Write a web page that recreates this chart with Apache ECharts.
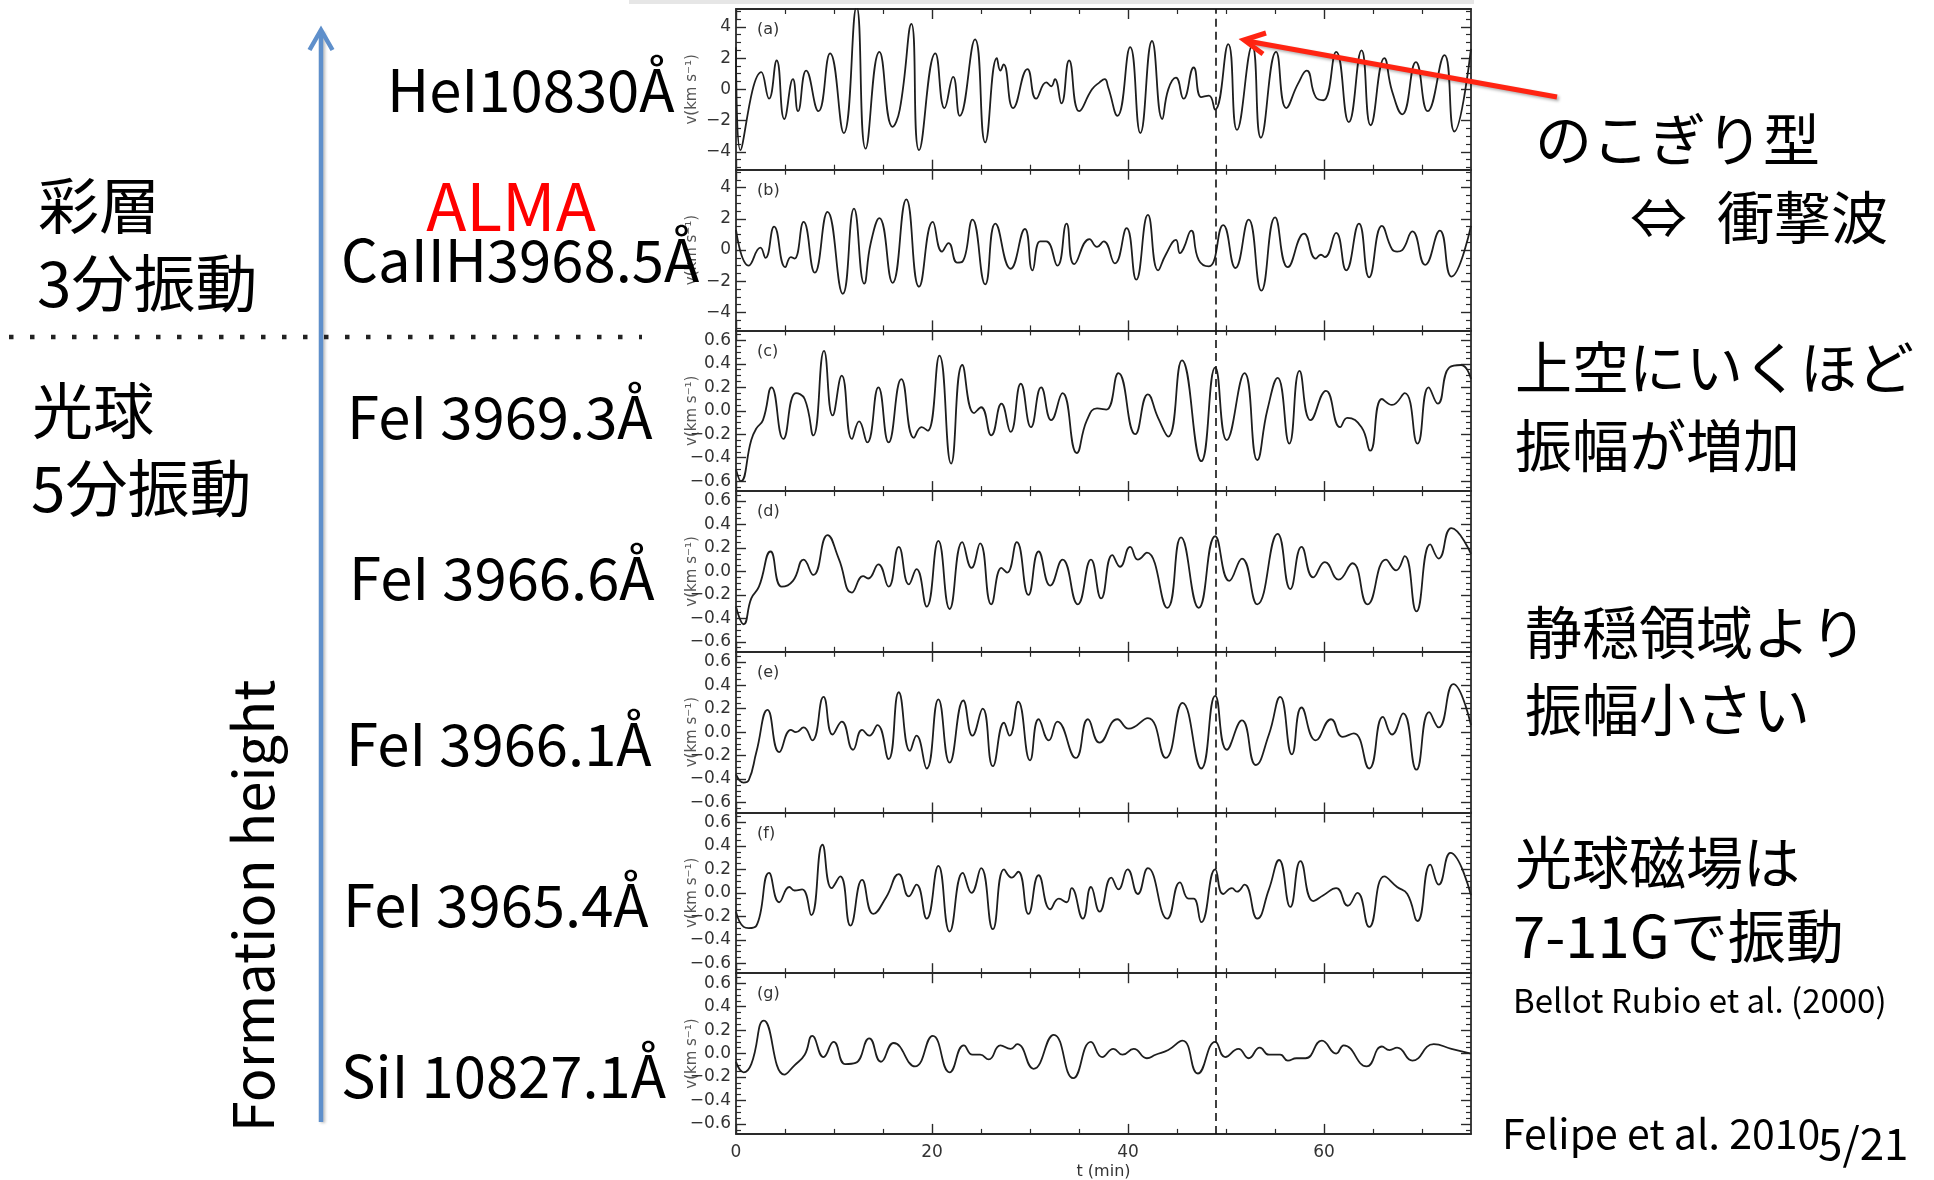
<!DOCTYPE html>
<html><head><meta charset="utf-8">
<script src="https://cdn.jsdelivr.net/npm/echarts@6/dist/echarts.min.js"></script>
<style>html,body{margin:0;padding:0;background:#fff;}#c{width:1934px;height:1180px;}</style>
</head><body><div id="c"></div>
<script>
// ---- data: [t (min), v] ----
const heI10830 = [[0,2.7],[0.45,-3.9],[2.59,1.1],[3.37,-0.6],[4.15,1.85],[4.93,-1.9],[5.81,0.65],[6.33,-1.4],[7.16,1.2],[8.41,-1.4],[9.6,2.3],[11.0,-2.8],[12.3,5.3],[13.23,-3.8],[14.63,2.4],[15.98,-2.4],[16.71,-1.3],[17.9,4.2],[18.68,-3.9],[20.34,2.3],[21.28,-1.2],[22.16,0.8],[22.83,-1.7],[24.39,3.2],[25.43,-3.4],[26.62,2.0],[26.98,1.2],[27.3,1.6],[28.28,-1.2],[29.74,1.3],[30.62,-0.6],[31.66,0.45],[32.17,0.2],[32.54,0.65],[33.21,-0.9],[33.99,1.85],[35.03,-1.4],[36.33,0],[37.1,0.45],[37.62,0.65],[37.99,0.1],[38.92,-1.7],[40.22,2.7],[41.26,-2.8],[42.45,3.1],[43.49,-1.9],[44.11,0],[44.89,0.75],[45.67,-0.6],[46.7,1.4],[47.48,-0.5],[48.26,-0.4],[48.88,-1.3],[50.23,2.9],[51.12,-2.6],[52.67,2.8],[53.56,-3.1],[55.11,2.4],[56.15,-1.2],[57.34,0.35],[58.23,1.2],[59.16,-0.5],[59.94,-0.7],[61.24,2.4],[62.53,-2.1],[63.83,2.5],[64.76,-2.3],[66.16,2.0],[66.94,-0.1],[67.98,-1.6],[69.38,1.75],[70.58,-1.4],[72.29,2.2],[73.3,-2.7],[75,2.6]];
const caIIH3968 = [[0,1.3],[1.3,-1.0],[2.49,0.15],[3.01,-0.5],[3.89,1.5],[5.03,-1.1],[5.6,-0.45],[5.97,-0.55],[6.9,1.8],[8.04,-1.45],[9.34,2.45],[10.9,-2.8],[12.04,2.65],[13.08,-2.15],[13.75,0.45],[14.63,2.05],[15.98,-2.1],[17.38,3.25],[18.68,-2.35],[20.08,1.8],[21.02,-0.1],[21.69,0.45],[22.57,-0.8],[23.09,-0.75],[24.13,1.95],[25.43,-2.2],[26.47,1.7],[28.02,-1.2],[29.48,1.35],[30.25,-1.3],[31.03,0.55],[31.66,0.55],[32.8,-1.0],[33.73,1.7],[34.51,-0.9],[36.07,0.7],[36.84,0.2],[37.52,0.55],[38.66,-0.85],[39.86,1.4],[40.84,-1.9],[42.03,2.25],[43.07,-1.3],[43.85,-0.3],[44.89,0.65],[45.3,-0.2],[45.67,0.1],[46.45,1.25],[47.22,-0.65],[48.26,-1.05],[49.71,1.6],[50.96,-1.15],[52.31,1.95],[53.61,-2.6],[55.01,2.1],[56.31,-1.1],[57.97,1.05],[59.16,-0.55],[59.68,-0.3],[60.09,-0.45],[61.24,1.1],[62.27,-1.3],[63.57,1.7],[64.61,-1.75],[65.91,1.55],[66.94,0.05],[67.46,-0.1],[67.98,0],[69.02,1.2],[70.32,-0.95],[71.82,1.25],[73.0,-1.7],[75,1.55]];
const feI3969 = [[0,-0.5],[0.5,-0.6],[1.56,-0.25],[2.08,-0.15],[2.75,-0.08],[3.63,0.2],[4.83,-0.24],[6.12,0.15],[7.01,0.1],[7.89,-0.21],[8.98,0.51],[9.86,-0.04],[10.79,0.3],[11.83,-0.24],[12.56,-0.09],[13.39,-0.27],[14.53,0.2],[15.57,-0.27],[16.87,0.27],[18.16,-0.23],[18.94,-0.14],[19.56,-0.17],[20.76,0.47],[21.95,-0.45],[23.09,0.39],[24.29,-0.02],[25.01,0.03],[26.05,-0.21],[27.09,0.06],[28.02,-0.18],[29.06,0.23],[30.1,-0.14],[31.14,0.2],[32.17,-0.08],[33.32,0.15],[34.77,-0.36],[35.81,-0.08],[36.84,0.02],[37.78,0.01],[39.02,0.32],[40.74,-0.2],[42.03,0.14],[43.07,-0.06],[44.11,-0.22],[45.51,0.43],[47.48,-0.43],[48.9,0.37],[50.08,-0.25],[51.89,0.32],[53.19,-0.42],[54.23,0.01],[55.27,0.28],[56.46,-0.28],[57.5,0.34],[58.64,-0.08],[60.2,0.17],[61.65,-0.14],[62.38,-0.06],[63.83,-0.14],[64.71,-0.34],[65.91,0.1],[66.94,0.05],[68.24,0.15],[69.54,-0.28],[70.68,0.2],[71.61,0.06],[72.8,0.37],[74.0,0.39],[75,0.27]];
const feI3966_6 = [[0,-0.3],[0.78,-0.45],[1.56,-0.23],[2.34,-0.13],[3.53,0.17],[4.67,-0.13],[5.81,-0.08],[6.9,0.1],[7.89,-0.03],[9.34,0.31],[10.48,0.11],[11.83,-0.18],[12.97,-0.04],[13.49,-0.06],[14.53,0.06],[15.57,-0.13],[16.61,0.21],[17.64,-0.11],[18.42,0.02],[19.46,-0.3],[20.65,0.26],[21.8,-0.32],[23.09,0.25],[24.03,0.03],[24.91,0.24],[26.05,-0.28],[27.09,0.03],[27.66,-0.01],[28.65,0.25],[29.84,-0.2],[30.88,0.17],[32.07,-0.12],[33.32,0.1],[34.87,-0.28],[36.22,0.1],[37.26,-0.23],[38.4,0.14],[39.18,0.04],[40.22,0.21],[41.0,0.1],[41.93,0.16],[44.01,-0.31],[45.41,0.29],[47.22,-0.31],[48.9,0.3],[50.34,-0.08],[51.63,0.11],[53.19,-0.28],[55.27,0.32],[56.56,-0.15],[57.71,0.21],[58.9,-0.05],[60.09,0.08],[61.49,-0.07],[62.9,0.07],[64.45,-0.28],[66.32,0.1],[67.36,0.01],[68.24,0.13],[69.43,-0.34],[70.84,0.23],[71.7,0.11],[73.0,0.37],[75,0.15]];
const feI3966_1 = [[0,-0.36],[0.78,-0.43],[1.3,-0.41],[2.08,-0.17],[3.22,0.19],[4.41,-0.17],[5.6,0.02],[6.12,0],[6.9,0.04],[7.78,-0.07],[8.93,0.3],[9.86,-0.02],[10.79,0.09],[11.94,-0.15],[12.87,0.02],[13.6,-0.03],[14.43,0.06],[15.57,-0.23],[16.61,0.34],[17.75,-0.16],[18.42,-0.03],[19.46,-0.31],[20.65,0.28],[21.8,-0.26],[23.2,0.27],[24.13,-0.03],[25.17,0.2],[26.21,-0.29],[27.35,0.08],[27.92,-0.03],[28.8,0.26],[30.0,-0.24],[30.88,0.11],[31.92,-0.07],[32.8,0.09],[34.67,-0.22],[35.91,0.11],[37.1,-0.09],[38.92,0.11],[40.06,0.03],[42.03,0.12],[43.85,-0.22],[45.56,0.25],[47.48,-0.31],[48.9,0.31],[50.08,-0.15],[51.63,0.1],[53.04,-0.28],[54.38,-0.02],[55.53,0.3],[56.72,-0.19],[57.71,0.21],[59.16,-0.07],[60.72,0.11],[61.91,-0.04],[63.05,-0.01],[64.61,-0.31],[66.01,0.13],[66.94,-0.02],[68.08,0.16],[69.43,-0.32],[70.73,0.17],[71.7,0.04],[73.2,0.41],[75,0.06]];
const feI3965 = [[0,-0.16],[0.78,-0.29],[1.3,-0.3],[2.08,-0.28],[3.37,0.17],[4.41,-0.08],[5.45,0.05],[5.97,0.02],[6.75,0.03],[7.68,-0.19],[8.82,0.41],[9.76,0.04],[10.64,0.14],[11.68,-0.28],[12.87,0.11],[14.01,-0.18],[15.31,-0.04],[16.61,0.16],[17.64,-0.03],[18.42,0.07],[19.46,-0.22],[20.65,0.23],[21.8,-0.33],[23.14,0.17],[24.03,0],[25.01,0.21],[26.21,-0.31],[27.35,0.2],[28.13,0.13],[28.8,0.18],[29.84,-0.18],[30.88,0.15],[32.07,-0.14],[32.95,-0.05],[33.73,-0.08],[34.25,0.04],[35.39,-0.22],[36.22,0.05],[37.1,-0.16],[38.3,0.13],[39.02,0.03],[39.96,0.2],[41.0,-0.01],[42.03,0.21],[44.01,-0.22],[45.3,0.09],[46.19,-0.05],[46.7,-0.05],[47.48,-0.25],[48.9,0.2],[49.71,-0.01],[50.6,0.04],[51.12,0.01],[51.89,0.07],[53.19,-0.22],[54.38,0.03],[55.42,0.28],[56.56,-0.12],[57.6,0.27],[58.9,-0.07],[59.94,-0.02],[61.24,0.04],[62.43,-0.11],[63.41,0],[64.61,-0.29],[66.16,0.14],[67.46,0.05],[68.5,-0.01],[69.54,-0.24],[70.84,0.24],[71.7,0.07],[72.9,0.34],[75,-0.02]];
const siI10827 = [[0,-0.07],[0.78,-0.16],[1.56,-0.09],[2.85,0.28],[4.93,-0.18],[5.97,-0.1],[7.01,-0.01],[7.78,0.15],[8.93,-0.03],[9.96,0.1],[11.16,-0.09],[12.2,-0.08],[13.6,0.13],[14.79,-0.07],[16.09,0.09],[18.27,-0.11],[20.08,0.15],[21.8,-0.16],[23.25,0.07],[24.13,-0.01],[24.91,-0.01],[25.79,-0.05],[26.98,0.07],[28.02,0.04],[28.7,0.08],[30.36,-0.13],[32.43,0.16],[34.41,-0.21],[36.22,0.1],[37.36,-0.03],[38.51,0.04],[39.44,-0.01],[40.58,0.04],[41.93,-0.04],[42.81,-0.01],[44.11,0.03],[45.56,0.11],[47.12,-0.17],[48.9,0.1],[49.92,-0.03],[51.27,0.04],[52.31,-0.04],[53.45,0.05],[54.38,-0.01],[55.53,-0.01],[56.31,-0.06],[57.19,-0.04],[58.12,-0.04],[59.78,0.11],[61.24,0],[62.01,0.07],[64.35,-0.11],[65.91,0.06],[66.68,0.03],[67.46,0.05],[69.02,-0.06],[71.2,0.08],[73.0,0.04],[75,0]];

const panelTags = ['(a)','(b)','(c)','(d)','(e)','(f)','(g)'];
const lineNames = ['HeI10830Å','CaIIH3968.5Å','FeI 3969.3Å','FeI 3966.6Å','FeI 3966.1Å','FeI 3965.4Å','SiI 10827.1Å'];
const xMajorTicks = [0,20,40,60];
const xMinorTicks = [5,10,15,25,30,35,45,50,55,65,70];
const yMajorKms = [-4,-2,0,2,4];
const yMinorKms = [-5,-4.5,-3.5,-3,-2.5,-1.5,-1,-0.5,0.5,1,1.5,2.5,3,3.5,4.5,5];
const yMajorSmall = [-0.6,-0.4,-0.2,0,0.2,0.4,0.6];
const yMinorSmall = [-0.65,-0.55,-0.5,-0.45,-0.35,-0.3,-0.25,-0.15,-0.1,-0.05,0.05,0.1,0.15,0.25,0.3,0.35,0.45,0.5,0.55,0.65];
const T_MAX = 75;
const T_SHOCK = 49;
const Y_LIM_BIG = 5.15, Y_LIM_SMALL = 0.685;

// ---- layout ----
const GL = 736, GR = 1471, GT = 9, PH = 160.7;
const AX = '#2a2a2a';
const CHART_FONT = 'DejaVu Sans';
const SLIDE_FONT = '"Noto Sans CJK JP", "Noto Sans", sans-serif';

const panels = [heI10830, caIIH3968, feI3969, feI3966_6, feI3966_1, feI3965, siI10827];
const big = [true, true, false, false, false, false, false];

const grids = [], xAxes = [], yAxes = [], series = [];
function tickMaj(vals){ return {show:true, inside:true, length:10, customValues:vals, lineStyle:{color:AX, width:1.4}}; }
function tickMin(vals){ return {show:true, inside:true, length:5, customValues:vals, lineStyle:{color:AX, width:1.2}}; }
const lineOn = {show:true, onZero:false, lineStyle:{color:AX, width:1.8}};
const lineOff = {show:false, onZero:false};

panels.forEach((data, i) => {
  const top = GT + i * PH;
  const last = i === panels.length - 1;
  grids.push({left:GL, top:top, width:GR - GL, height:PH, show:false, containLabel:false, outerBoundsMode:'none'});
  const xBase = {gridIndex:i, type:'value', min:0, max:T_MAX, splitLine:{show:false}, minorTick:{show:false}};
  xAxes.push(Object.assign({}, xBase, {position:'bottom', axisLine:lineOn, axisTick:tickMaj(xMajorTicks),
    axisLabel: last ? {show:true, customValues:xMajorTicks, fontFamily:CHART_FONT, fontSize:17, color:'#333', margin:10} : {show:false},
    name: last ? 't (min)' : '', nameLocation:'middle', nameGap:30, nameMoveOverlap:false,
    nameTextStyle:{fontFamily:CHART_FONT, fontSize:16, color:'#333'}}));
  xAxes.push(Object.assign({}, xBase, {position:'top', axisLine:lineOn, axisTick:tickMaj(xMajorTicks), axisLabel:{show:false}}));
  xAxes.push(Object.assign({}, xBase, {position:'bottom', axisLine:lineOff, axisTick:tickMin(xMinorTicks), axisLabel:{show:false}}));
  xAxes.push(Object.assign({}, xBase, {position:'top', axisLine:lineOff, axisTick:tickMin(xMinorTicks), axisLabel:{show:false}}));

  const lim = big[i] ? Y_LIM_BIG : Y_LIM_SMALL;
  const maj = big[i] ? yMajorKms : yMajorSmall;
  const mnr = big[i] ? yMinorKms : yMinorSmall;
  const fmt = v => (v < -1e-9 ? '\u2212' : '') + Math.abs(v).toFixed(big[i] ? 0 : 1);
  const yBase = {gridIndex:i, type:'value', min:-lim, max:lim, splitLine:{show:false}, minorTick:{show:false}};
  yAxes.push(Object.assign({}, yBase, {position:'left', axisLine:lineOn, axisTick:tickMaj(maj),
    axisLabel:{show:true, customValues:maj, formatter:fmt, fontFamily:CHART_FONT, fontSize:17, color:'#333', margin:5},
    name:'v(km s\u207B\u00B9)', nameLocation:'middle', nameRotate:90, nameGap:36, nameMoveOverlap:false,
    nameTextStyle:{fontFamily:CHART_FONT, fontSize:15, color:'#555'}}));
  yAxes.push(Object.assign({}, yBase, {position:'right', axisLine:lineOn, axisTick:tickMaj(maj), axisLabel:{show:false}}));
  yAxes.push(Object.assign({}, yBase, {position:'left', axisLine:lineOff, axisTick:tickMin(mnr), axisLabel:{show:false}}));
  yAxes.push(Object.assign({}, yBase, {position:'right', axisLine:lineOff, axisTick:tickMin(mnr), axisLabel:{show:false}}));

  series.push({
    type:'line', name:lineNames[i], xAxisIndex:4*i, yAxisIndex:4*i, data:data,
    symbol:'none', showSymbol:false, smooth:0.5, clip:true, silent:true,
    lineStyle:{color:'#1e1e1e', width:1.8},
    markLine:{silent:true, symbol:['none','none'], label:{show:false},
      lineStyle:{color:'#111', width:1.6, type:[8,5]}, data:[{xAxis:T_SHOCK}]}
  });
});

// ---- slide texts and decorations ----
function txt(text, x, y, size, o) {
  o = o || {};
  const align = o.align || 'left';
  return {type:'text', x:x, y:y, rotation:o.rotation || 0, z:100, silent:true,
    style:{text:text, fontSize:size, fontFamily:o.font || SLIDE_FONT, fontWeight:'normal',
      fill:o.color || '#000', align:align, textAlign:align, verticalAlign:'middle', textVerticalAlign:'middle'}};
}
const graphics = [];
graphics.push({type:'rect', shape:{x:629, y:0, width:845, height:4}, style:{fill:'#e6e6e6'}, z:1, silent:true});
panelTags.forEach((t, i) => graphics.push(txt(t, 757, GT + i*PH + 21, 16, {font:CHART_FONT, color:'#333'})));
// left column
graphics.push(txt('彩層', 38, 206, 61));
graphics.push(txt('3分振動', 37, 283, 62));
graphics.push(txt('光球', 32, 411, 61));
graphics.push(txt('5分振動', 31, 488, 62));
graphics.push({type:'line', shape:{x1:9, y1:337, x2:642, y2:337}, z:100, silent:true,
  style:{stroke:'#222', lineWidth:4.5, lineDash:[4.5,16.5], lineCap:'butt'}});
graphics.push(txt('ALMA', 511, 206, 66, {align:'center', color:'#ff0000'}));
const labelLeft = [387, 341, 347, 349, 346, 343, 341];
const labelMid  = [90, 260, 417, 578, 744, 905, 1076];
lineNames.forEach((n, i) => graphics.push(txt(n, labelLeft[i], labelMid[i], 58)));
graphics.push(txt('Formation height', 253, 906, 56, {align:'center', rotation:Math.PI/2}));
// blue arrow
graphics.push({type:'line', shape:{x1:321, y1:1122, x2:321, y2:31}, z:90, silent:true,
  style:{stroke:'#5e8fcb', lineWidth:4.5, shadowBlur:3, shadowColor:'rgba(0,0,0,0.25)', shadowOffsetX:2, shadowOffsetY:1}});
graphics.push({type:'polyline', shape:{points:[[309.5,50],[321,30],[332.5,50]]}, z:90, silent:true,
  style:{stroke:'#5e8fcb', fill:null, lineWidth:4.5, lineJoin:'miter'}});
// red arrow
graphics.push({type:'line', shape:{x1:1557, y1:97, x2:1247, y2:41}, z:95, silent:true,
  style:{stroke:'#ff2412', lineWidth:5, shadowBlur:3, shadowColor:'rgba(0,0,0,0.3)', shadowOffsetX:2, shadowOffsetY:2}});
graphics.push({type:'polyline', shape:{points:[[1263,54],[1244,40],[1266,33]]}, z:95, silent:true,
  style:{stroke:'#ff2412', fill:null, lineWidth:5, lineJoin:'miter'}});
// right column
graphics.push(txt('のこぎり型', 1535, 139, 57));
graphics.push(txt('⇔', 1630, 217, 57));
graphics.push(txt('衝撃波', 1717, 217, 57));
graphics.push(txt('上空にいくほど', 1515, 367, 57));
graphics.push(txt('振幅が増加', 1515, 445, 57));
graphics.push(txt('静穏領域より', 1525, 632, 57));
graphics.push(txt('振幅小さい', 1525, 709, 57));
graphics.push(txt('光球磁場は', 1515, 862, 57));
graphics.push(txt('7-11Gで振動', 1513, 936, 58));
graphics.push(txt('Bellot Rubio et al. (2000)', 1513, 1000, 33));
graphics.push(txt('Felipe et al. 2010', 1502, 1133, 41));
graphics.push(txt('5/21', 1818, 1143, 44));

const chart = echarts.init(document.getElementById('c'), null, {renderer:'canvas', width:1934, height:1180});
chart.setOption({
  backgroundColor:'#ffffff',
  animation:false,
  grid:grids, xAxis:xAxes, yAxis:yAxes, series:series,
  graphic:{elements:graphics}
});
</script></body></html>
